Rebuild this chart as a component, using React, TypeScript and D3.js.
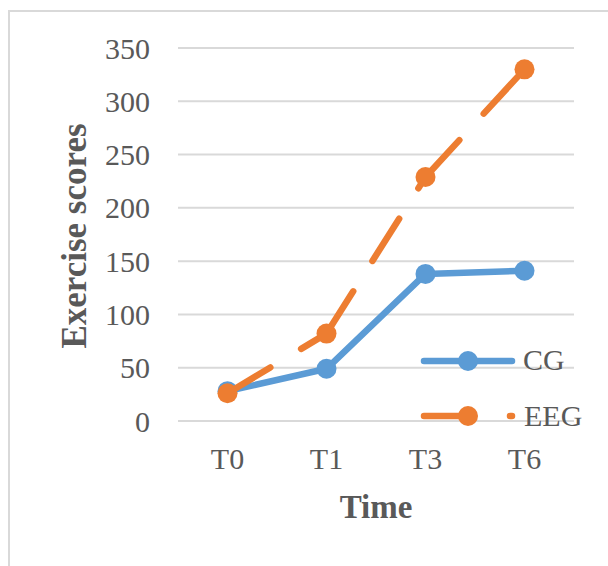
import React from 'react';
import * as d3 from 'd3';

const categories = ['T0', 'T1', 'T3', 'T6'];
const cgValues = [28, 49, 138, 141];
const eegValues = [26, 82, 229, 330];
const yTicks = [0, 50, 100, 150, 200, 250, 300, 350];

const W = 608;
const H = 566;
const FONT = '"Liberation Serif", "Times New Roman", serif';
const TEXT = '#595959';
const GRID = '#d9d9d9';
const BLUE = '#5b9bd5';
const ORANGE = '#ed7d31';
const LW = 6.5;
const R = 10;
const DASH = '50 36';

export default function App() {
  const x = d3.scaleBand<string>().domain(categories).range([178, 574]);
  const y = d3.scaleLinear().domain([0, 350]).range([421, 48]);
  const cx = (c: string) => (x(c) ?? 0) + x.bandwidth() / 2;

  const line = d3.line<[number, number]>().x(d => d[0]).y(d => d[1]);
  const cgPts: [number, number][] = categories.map((c, i) => [cx(c), y(cgValues[i])]);
  const eegPts: [number, number][] = categories.map((c, i) => [cx(c), y(eegValues[i])]);
  // excel restarts the dash pattern on every segment
  const eegSegs = eegPts.slice(1).map((p, i) => line([eegPts[i], p]) as string);

  return (
    <svg width={W} height={H} style={{ position: 'absolute', left: 0, top: 0, background: 'white' }}>
      <path d={`M9,${H} V11 H${W}`} fill="none" stroke={GRID} strokeWidth={2} />

      {yTicks.map(t => (
        <g key={t}>
          <line x1={178} x2={574} y1={y(t)} y2={y(t)} stroke={GRID} strokeWidth={2} />
          <text x={150} y={y(t)} dy="0.35em" textAnchor="end" fontFamily={FONT} fontSize={30} fill={TEXT}>{t}</text>
        </g>
      ))}

      {categories.map(c => (
        <text key={c} x={cx(c)} y={469} textAnchor="middle" fontFamily={FONT} fontSize={30} fill={TEXT}>{c}</text>
      ))}

      <text transform="translate(86,236) rotate(-90)" textAnchor="middle" fontFamily={FONT} fontSize={35} fontWeight="bold" fill={TEXT}>Exercise scores</text>
      <text x={376} y={518} textAnchor="middle" fontFamily={FONT} fontSize={33} fontWeight="bold" fill={TEXT}>Time</text>

      <path d={line(cgPts) as string} fill="none" stroke={BLUE} strokeWidth={LW} strokeLinejoin="round" strokeLinecap="round" />
      {cgPts.map((p, i) => <circle key={i} cx={p[0]} cy={p[1]} r={R} fill={BLUE} />)}

      {eegSegs.map((d, i) => (
        <path key={i} d={d} fill="none" stroke={ORANGE} strokeWidth={LW} strokeLinecap="round" strokeDasharray={DASH} />
      ))}
      {eegPts.map((p, i) => <circle key={i} cx={p[0]} cy={p[1]} r={R} fill={ORANGE} />)}

      {/* legend */}
      <line x1={424} x2={512} y1={361} y2={361} stroke={BLUE} strokeWidth={LW} strokeLinecap="round" />
      <circle cx={468} cy={361} r={R} fill={BLUE} />
      <text x={523} y={370} fontFamily={FONT} fontSize={30} fill={TEXT}>CG</text>

      <line x1={424} x2={512} y1={416} y2={416} stroke={ORANGE} strokeWidth={LW} strokeLinecap="round" strokeDasharray={DASH} />
      <circle cx={468} cy={416} r={R} fill={ORANGE} />
      <text x={524} y={426} fontFamily={FONT} fontSize={30} fill={TEXT}>EEG</text>
    </svg>
  );
}
